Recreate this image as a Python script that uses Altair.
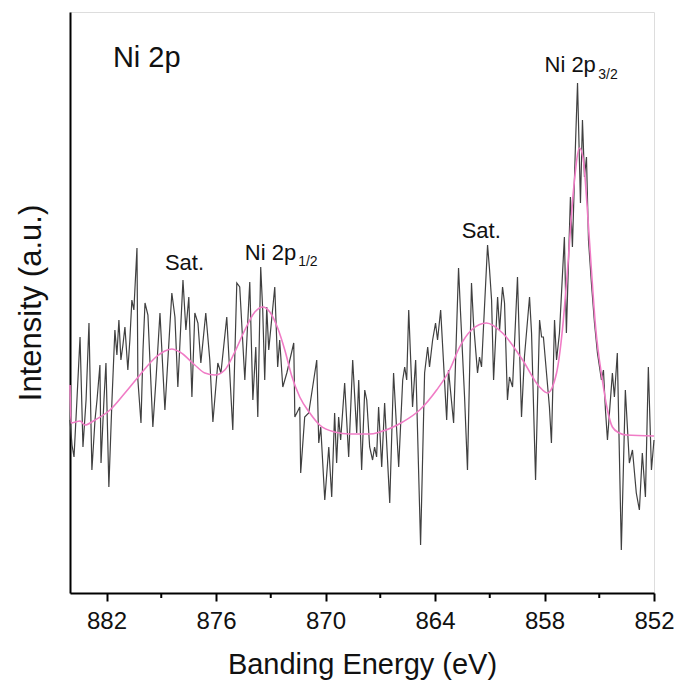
import altair as alt
import pandas as pd

# ---- raw spectrum ----
raw_energy = [
    884.00, 883.89, 883.78, 883.62, 883.45, 883.29, 883.12, 882.96, 882.80, 882.63,
    882.52, 882.36, 882.30, 882.14, 882.03, 881.87, 881.70, 881.54, 881.43, 881.32,
    881.21, 881.10, 880.99, 880.83, 880.72, 880.61, 880.50, 880.33, 880.28, 880.11,
    880.00, 879.89, 879.73, 879.46, 879.29, 879.07, 878.80,
    878.42, 878.25, 878.09, 877.81, 877.65, 877.49, 877.32, 877.16, 876.99, 876.83,
    876.56, 876.34, 876.17, 875.90, 875.73, 875.41, 875.08, 874.86, 874.70, 874.42,
    874.15, 873.98, 873.82, 873.71, 873.55,
    873.44, 873.33, 873.22, 873.11, 872.78, 872.62, 872.51, 872.34, 872.12, 871.74,
    871.68, 871.41, 871.36, 871.14, 870.92, 870.48, 870.37, 870.26, 870.04, 869.82,
    869.66, 869.50, 869.39, 869.28, 869.17, 868.95, 868.73, 868.51, 868.29, 868.18,
    868.02,
    867.85, 867.74, 867.58, 867.42, 867.31, 867.20, 867.09, 866.92, 866.76, 866.48,
    866.27, 865.99, 865.77, 865.66, 865.55, 865.44, 865.23, 865.06, 864.79, 864.57,
    864.40, 864.30, 864.13, 863.97, 863.86, 863.69, 863.36, 863.26, 862.98, 862.71,
    862.60, 862.38, 862.22, 862.00, 861.89, 861.67, 861.56, 861.45, 861.12, 861.01,
    860.90, 860.79, 860.57, 860.46, 860.30, 860.19, 860.03, 859.92, 859.75, 859.48,
    859.26, 859.10, 858.82, 858.71, 858.49, 858.27, 858.16, 858.06, 857.73, 857.62,
    857.45, 857.34, 857.18, 856.91, 856.80, 856.58, 856.47, 856.30, 856.19, 856.03,
    855.92, 855.81, 855.70, 855.59, 855.43, 855.26, 855.10, 854.88, 854.77, 854.66,
    854.55, 854.28, 854.17, 854.01, 853.79, 853.57, 853.35, 853.18, 852.97, 852.80,
    852.64, 852.47, 852.31, 852.14, 852.00,
]
raw_intensity = [
    173, 148, 136, 193, 256, 146, 193, 270, 123, 173,
    193, 228, 130, 193, 230, 106, 193, 263, 238, 273,
    233, 248, 266, 223, 253, 293, 283, 345, 213, 170,
    243, 290, 278, 166, 213, 280, 183,
    300, 276, 206, 313, 263, 296, 196, 280, 270, 230,
    280, 233, 171, 230, 220, 276, 163, 310, 306, 213,
    311, 193, 246, 176, 326,
    283, 213, 286, 243, 306, 226, 253, 206, 220, 250,
    176, 186, 120, 176, 180, 233, 150, 166, 93, 146,
    96, 180, 130, 176, 153, 210, 136, 233, 160, 213,
    123,
    203, 193, 146, 133, 146, 136, 186, 126, 190, 90,
    220, 126, 213, 226, 213, 283, 186, 233, 48, 220,
    246, 226, 253, 270, 253, 283, 173, 223, 170, 325,
    280, 196, 123, 310, 270, 220, 236, 226, 348, 323,
    293, 213, 296, 263, 306, 290, 193, 216, 206, 316,
    176, 236, 296, 260, 113, 273, 256, 256, 186, 150,
    273, 233, 260, 356, 260, 396, 346, 450, 510, 390,
    473, 416, 436, 353, 310, 270, 240, 213, 223, 183,
    153, 220, 196, 240, 43, 203, 130, 143, 100, 83,
    140, 96, 226, 123, 153,
]

# ---- fitted envelope ----
fit_energy = [
    884.00, 883.95, 883.45, 883.18, 882.63, 881.81, 880.99, 880.17, 879.35, 878.80,
    878.42, 877.98, 877.16, 876.61, 876.06, 875.52, 874.97, 874.42, 873.87, 873.44,
    873.05, 872.62, 872.23, 871.85, 871.41, 870.86, 870.32, 869.50, 868.67, 867.58,
    867.03, 865.77, 864.84, 863.91, 863.20, 862.65, 862.00, 861.18, 860.30, 859.20,
    858.27, 857.84, 857.34, 857.02, 856.74, 856.41, 856.08, 855.87, 855.65, 855.43,
    855.21, 854.83, 854.55, 854.28, 853.90, 853.51, 852.00,
]
fit_intensity = [
    208, 170, 172, 168, 173, 183, 200, 218, 235, 242,
    244, 241, 228, 220, 218, 223, 241, 263, 281, 286,
    281, 265, 243, 217, 196, 180, 168, 161, 159, 159,
    161, 171, 183, 203, 223, 246, 263, 270, 260, 233,
    206, 200, 220, 263, 323, 403, 445, 433, 383, 323,
    268, 213, 183, 166, 160, 158, 157,
]

# ---- annotations ----
label_text = ["Ni 2p", "Sat.", "Ni 2p", "Sat.", "Ni 2p"]
label_energy = [881.65, 878.80, 874.42, 862.54, 858.00]
label_intensity = [526, 323, 333, 355, 521]
label_size = [29, 22, 22, 22, 22]

sub_text = ["1/2", "3/2"]
sub_energy = [871.50, 855.05]
sub_intensity = [327, 514]

major_ticks = [882, 876, 870, 864, 858, 852]
minor_ticks = [879, 873, 867, 861, 855]

W, H = 584, 581
FONT = "Liberation Sans"

raw = pd.DataFrame({"energy": raw_energy, "intensity": raw_intensity})
fit = pd.DataFrame({"energy": fit_energy, "intensity": fit_intensity})
labels = pd.DataFrame({"t": label_text, "energy": label_energy,
                       "intensity": label_intensity, "size": label_size})
subs = pd.DataFrame({"t": sub_text, "energy": sub_energy, "intensity": sub_intensity})
minor = pd.DataFrame({"energy": minor_ticks})

xscale = alt.Scale(domain=[852, 884], reverse=True, nice=False, zero=False)
yscale = alt.Scale(domain=[0, 581], nice=False, zero=False)

xaxis = alt.Axis(values=major_ticks, format="d", title="Banding Energy (eV)",
                 tickSize=8, tickWidth=2, tickColor="black", domainColor="black",
                 domainWidth=2, labelFont=FONT, labelFontSize=24, labelColor="#111111",
                 labelPadding=8, labelFlush=False, titleFont=FONT, titleFontSize=29,
                 titleFontWeight="normal", titleColor="#111111", titlePadding=17,
                 grid=False)
yaxis = alt.Axis(title="Intensity (a.u.)", ticks=False, labels=False,
                 domainColor="black", domainWidth=2, titleFont=FONT,
                 titleFontSize=31, titleFontWeight="normal", titleColor="#111111",
                 titlePadding=23, grid=False)

raw_line = alt.Chart(raw).mark_line(color="#404040", strokeWidth=1.2).encode(
    x=alt.X("energy:Q", scale=xscale, axis=xaxis),
    y=alt.Y("intensity:Q", scale=yscale, axis=yaxis),
)

fit_line = alt.Chart(fit).mark_line(color="#f07cc6", strokeWidth=1.6,
                                     interpolate="monotone").encode(
    x=alt.X("energy:Q", scale=xscale),
    y=alt.Y("intensity:Q", scale=yscale),
)

minor_rules = alt.Chart(minor).mark_rule(color="black", strokeWidth=2, clip=False).encode(
    x=alt.X("energy:Q", scale=xscale),
    y=alt.value(H),
    y2=alt.value(H + 5),
)

label_marks = alt.Chart(labels).mark_text(font=FONT, align="left", baseline="alphabetic",
                                          color="#111111").encode(
    x=alt.X("energy:Q", scale=xscale),
    y=alt.Y("intensity:Q", scale=yscale),
    text="t:N",
    size=alt.Size("size:Q", scale=None, legend=None),
)

sub_marks = alt.Chart(subs).mark_text(font=FONT, align="left", baseline="alphabetic",
                                      fontSize=14, color="#111111").encode(
    x=alt.X("energy:Q", scale=xscale),
    y=alt.Y("intensity:Q", scale=yscale),
    text="t:N",
)

chart = alt.layer(raw_line, fit_line, minor_rules, label_marks, sub_marks).properties(
    width=W, height=H,
    autosize=alt.AutoSizeParams(type="none"),
    padding={"left": 62, "top": 4, "right": 20, "bottom": 92},
).configure_view(stroke="black", strokeWidth=2).configure(background="white")

chart.save("out.html", embed_options={"renderer": "svg", "actions": False})
